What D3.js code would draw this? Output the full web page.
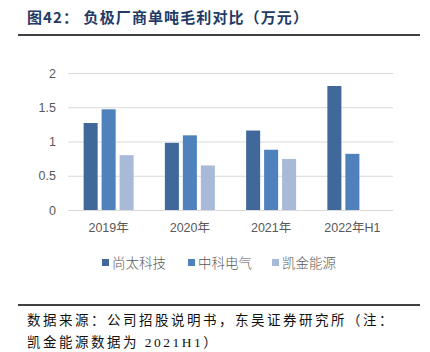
<!DOCTYPE html>
<html>
<head>
<meta charset="utf-8">
<script src="https://cdn.jsdelivr.net/npm/d3@7"></script>
<style>
body { margin: 0; background: #fff; }
svg { display: block; }
</style>
</head>
<body>
<svg id="svg"></svg>
<script>
var width = 430, height = 352;

var categories = ["2019年", "2020年", "2021年", "2022年H1"];
var seriesNames = ["尚太科技", "中科电气", "凯金能源"];
var shangtai = [1.27, 0.98, 1.16, 1.81];
var zhongke = [1.47, 1.09, 0.88, 0.82];
var kaijin = [0.80, 0.65, 0.745, null];
var yTicks = [0, 0.5, 1, 1.5, 2];
var colors = ["#41689b", "#4f81bd", "#a9b9d8"];

var series = [shangtai, zhongke, kaijin];

var svg = d3.select("#svg")
	.attr("width", width)
	.attr("height", height);

var cjk = "'Noto Sans CJK SC', sans-serif";

// title
svg.append("text")
	.attr("x", 27)
	.attr("y", 23)
	.attr("font-family", cjk)
	.attr("font-weight", "bold")
	.attr("font-size", 15)
	.attr("letter-spacing", 1.1)
	.attr("fill", "#1f3b66")
	.text("图42： 负极厂商单吨毛利对比（万元）");

svg.append("line")
	.attr("x1", 18).attr("x2", 420)
	.attr("y1", 35).attr("y2", 35)
	.attr("stroke", "#000")
	.attr("stroke-width", 1.5);

var x0 = d3.scaleBand()
	.domain(categories)
	.range([68, 393]);

var x1 = d3.scaleBand()
	.domain(d3.range(seriesNames.length))
	.range([x0.bandwidth() / 2 - 25, x0.bandwidth() / 2 + 25])
	.paddingInner(0.22);

var y = d3.scaleLinear()
	.domain([0, 2])
	.range([210, 73]);

// grid
svg.append("g")
	.selectAll("line")
	.data(yTicks)
	.enter()
	.append("line")
	.attr("x1", 68)
	.attr("x2", 393)
	.attr("y1", function(d) { return y(d) + 0.5; })
	.attr("y2", function(d) { return y(d) + 0.5; })
	.attr("stroke", "#d9d9d9")
	.attr("stroke-width", 1);

var yAxis = d3.axisLeft(y)
	.tickValues(yTicks)
	.tickSize(0)
	.tickPadding(8)
	.tickFormat(function(d) { return d; });

svg.append("g")
	.attr("transform", "translate(64,0)")
	.call(yAxis)
	.call(function(g) { g.select(".domain").remove(); })
	.selectAll("text")
	.attr("font-family", "'Liberation Sans', " + cjk)
	.attr("font-size", 12.5)
	.attr("fill", "#595959");

// bars
var groups = svg.append("g")
	.selectAll("g")
	.data(categories)
	.enter()
	.append("g")
	.attr("transform", function(d) { return "translate(" + x0(d) + ",0)"; });

groups.selectAll("rect")
	.data(function(d, i) {
		return series.map(function(s, k) { return {k: k, value: s[i]}; })
			.filter(function(e) { return e.value != null; });
	})
	.enter()
	.append("rect")
	.attr("x", function(d) { return x1(d.k); })
	.attr("y", function(d) { return y(d.value); })
	.attr("width", x1.bandwidth())
	.attr("height", function(d) { return y(0) - y(d.value); })
	.attr("fill", function(d) { return colors[d.k]; });

// x axis labels
var xAxis = d3.axisBottom(x0)
	.tickSize(0)
	.tickPadding(13);

svg.append("g")
	.attr("transform", "translate(0,210)")
	.call(xAxis)
	.call(function(g) { g.select(".domain").remove(); })
	.selectAll("text")
	.attr("font-family", "'Liberation Sans', " + cjk)
	.attr("font-size", 12.5)
	.attr("fill", "#595959");

// legend
var legendX = [102, 188, 272];
var legend = svg.append("g")
	.selectAll("g")
	.data(seriesNames)
	.enter()
	.append("g")
	.attr("transform", function(d, i) { return "translate(" + legendX[i] + ",263)"; });

legend.append("rect")
	.attr("x", 0)
	.attr("y", -4)
	.attr("width", 7)
	.attr("height", 7)
	.attr("fill", function(d, i) { return colors[i]; });

legend.append("text")
	.attr("x", 10)
	.attr("y", 0)
	.attr("dy", "0.35em")
	.attr("font-family", cjk)
	.attr("font-size", 13.5)
	.attr("font-weight", 300)
	.attr("fill", "#595959")
	.text(function(d) { return d; });

// footer
svg.append("line")
	.attr("x1", 18).attr("x2", 420)
	.attr("y1", 305).attr("y2", 305)
	.attr("stroke", "#000")
	.attr("stroke-width", 1.5);

var footer = svg.append("g")
	.attr("font-family", "'Liberation Serif', " + cjk)
	.attr("font-size", 13.5)
	.attr("letter-spacing", 2.5)
	.attr("fill", "#111");

footer.append("text")
	.attr("x", 27)
	.attr("y", 325)
	.text("数据来源：公司招股说明书，东吴证券研究所（注：");

footer.append("text")
	.attr("x", 27)
	.attr("y", 347)
	.text("凯金能源数据为 2021H1）");
</script>
</body>
</html>
